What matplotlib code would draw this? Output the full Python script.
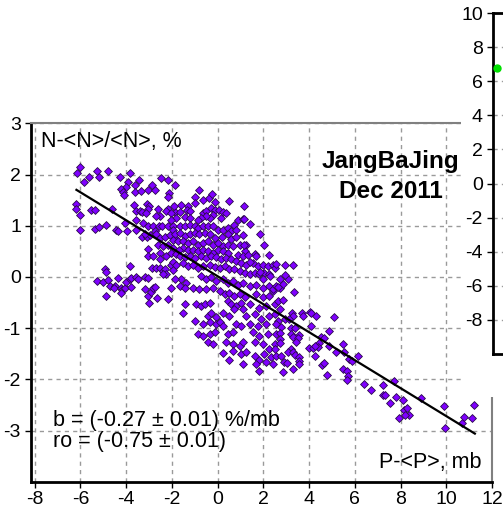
import numpy as np
import matplotlib
matplotlib.use("Agg")
import matplotlib.pyplot as plt
from matplotlib.patches import Rectangle

plt.rcParams["font.family"] = ["Liberation Sans", "DejaVu Sans"]
plt.rcParams["axes.unicode_minus"] = False

# P-<P> (mb), N-<N>/<N> (%)
dp = [
    -6.00, -6.14, -5.85, -5.62, -5.25, -5.18, -4.79, -4.28, -3.84, -3.44, -3.92, -3.62, -3.99, -4.21, -4.13,
    -4.09, -3.62, -3.36, -3.04, -2.75, -2.87, -2.49, -1.88, -6.21, -6.21, -6.03, -6.03, -5.52, -5.34, -4.60,
    -5.37, -5.20, -4.89, -4.42, -4.35, -3.96, -4.06, -3.55, -3.67, -3.58, -3.41, -3.29, -3.09, -3.00, -3.04,
    -3.14, -2.61, -2.17, -2.27, -2.53, -2.71, -1.88, -2.13, -3.55, -3.26, -3.04, -2.82, -2.75, -2.56, -2.41,
    -2.17, -1.95, -3.29, -3.09, -2.94, -2.68, -2.53, -2.31, -2.10, -1.88, -2.61, -2.39, -2.17, -1.95, -3.04,
    -3.04, -2.82, -2.53, -2.53, -2.24, -2.02, -3.81, -3.19, -2.17, -2.18, -0.79,
    -4.93, -4.89, -5.25, -5.01, -4.79, -4.72, -4.50, -4.54, -4.35, -4.21, -4.16, -4.06, -4.21, -3.99, -3.84,
    -3.80, -3.77, -3.58, -3.48, -3.19, -3.04, -4.86, -3.19, -3.04, -2.90, -2.82, -2.75, -3.00, -2.65, -2.17,
    -2.85, -2.71, -2.53, -2.39, -2.31, -2.24, -2.39, -1.95,
    -0.97, -0.64, -0.39, -0.25, -0.09, 0.48, 1.14, -1.00, -1.92, -1.59, -1.30, -1.34, -1.19, -1.66, -2.02,
    -1.44, -1.80, -2.02, -1.22, -0.64, -0.49, -0.28, -0.13, 0.06, -0.20, 0.16, 0.23, 0.35, -0.35, -0.52,
    -0.71, -0.86, 0.89, 1.10, 1.40, 1.86, 2.02, 0.74, -1.66, -1.44, -1.22, -1.00, -0.86, -0.64, -0.42,
    -0.20, 0.01, 0.23, 0.45, 0.60, 0.79, 0.45, 0.21, 0.60, 0.82, 0.99, 1.25, 1.22, 1.62, 2.27,
    -1.95, -1.88, -1.66, -1.44, -1.22, -1.00, -0.79, -0.57, -0.35, -0.13, -1.95, -1.73, -1.52, -1.30, -1.08,
    -0.86, -0.64, -0.42, -0.20, 0.01, 0.23, 0.45, 0.67, -1.52, -1.30, -1.08, -0.86, -0.64, -0.42, -0.20,
    0.01, 0.23, 0.45, 0.89, 1.10, 1.32, -2.02, -1.80, -1.69,
    -1.66, -1.44, -1.22, -1.00, -0.71, -0.49, -0.28, -0.06, 0.16, 0.38, 0.60, 0.82, 1.04, 1.25, 1.54,
    1.76, 1.98, 2.20, 2.41, -1.95, -1.80, -1.52, -1.30, -1.08, -0.86, -0.64, -0.35, -0.13, 0.09, 0.31,
    0.52, 0.74, 0.96, 1.18, 1.40, 1.62, 1.83, 2.05, 2.27, 2.53, -1.59, -1.88, -1.37, -0.71, -0.49,
    -0.28, -0.06, 0.23, 0.45, 0.67, 0.89, 1.10, 1.40, 1.69, 1.98, 2.27, 2.41, -2.02, -1.66, -1.44,
    -1.08, -0.79, -0.49, -0.20, 0.09, 0.31, 0.52, 0.74, 0.96, 1.18, 1.69, 1.98, 2.27, -1.44, -0.93,
    -0.71, -0.57, -0.35, 0.45, 0.60, 0.82, 1.04, 1.40, 1.83, 2.13, 2.49, -1.52, -0.42, -0.28, -0.06,
    0.23, 0.52, 0.74, 1.25, 1.62, 1.91, 2.27, 2.49, -1.00, -0.64, -0.35, -0.06, 0.09, 0.23, 0.82,
    1.04, 1.40, 1.76, 2.13, -0.86, -0.64, -0.35, -0.13, 0.45, 0.67, 1.54, 1.83, 2.20, -0.42, -0.20,
    0.38, 0.67, 0.96, 1.62, 1.98, 2.27, 0.23, 1.04, 1.25, 1.62, 2.05, 2.34, 0.52, 1.83, 2.13,
    1.14, 1.10, 1.14, 1.69, 1.40, 1.86, 1.98, 2.56, 2.30, 2.41, 2.71, 2.85, 3.07,
    2.96, 3.29, 2.93, 2.71, 2.56,
    2.63, 3.36, 2.66, 2.85, 2.75, 3.24, 3.29, 3.68, 3.72, 4.06, 4.09, 4.31, 5.08, 2.93, 2.63,
    3.14, 2.78, 3.22, 3.39, 4.09, 2.56, 2.75, 3.19, 3.58, 2.75, 3.29, 3.51, 4.53, 4.67, 4.89,
    4.45, 4.38, 4.89, 5.47, 2.49, 2.75, 3.44, 3.22, 3.07, 3.29, 3.39, 3.58, 4.02, 4.16, 4.24,
    5.18, 5.52, 5.76, 5.87, 6.13, 2.56, 2.78, 2.90, 3.04, 3.58, 3.58, 3.29, 2.85, 4.56, 4.67,
    4.79, 5.47, 5.66, 5.69, 5.66, 6.39, 6.71, 7.22, 2.56, 2.52,
    1.10, 1.10, 1.83, 1.69, 2.41, 4.24, 0.66, 1.10,
    7.73, 7.22, 7.34, 7.54, 7.80, 8.09, 8.17, 8.27, 8.38, 8.21, 7.95, 8.89, 9.88, 9.94, 10.68,
    10.79, 11.12, 11.22,
]
dn = [
    2.14, 2.03, 1.86, 1.96, 2.07, 1.96, 2.07, 1.96, 2.02, 1.89, 1.86, 1.80, 1.76, 1.71, 1.65,
    1.60, 1.65, 1.67, 1.69, 1.69, 1.80, 1.94, 1.80, 1.43, 1.32, 1.21, 0.91, 1.30, 1.30, 1.32,
    0.94, 0.97, 1.01, 0.92, 0.89, 0.89, 1.06, 0.92, 1.41, 1.29, 1.29, 1.27, 1.43, 1.39, 1.32,
    1.25, 1.32, 1.32, 1.28, 1.18, 1.18, 1.26, 1.63, 1.12, 1.05, 0.99, 0.99, 0.89, 0.99, 1.00,
    1.00, 0.99, 0.78, 0.78, 0.81, 0.83, 0.76, 0.78, 0.81, 0.76, 0.63, 0.60, 0.63, 0.57, 0.55,
    0.40, 0.40, 0.47, 0.34, 0.40, 0.24, 0.22, 0.84, 1.89, 1.57, 1.70,
    0.15, 0.10, -0.08, -0.09, -0.06, -0.17, -0.17, -0.22, -0.03, -0.21, -0.26, -0.22, -0.31, -0.09, -0.05,
    -0.02, -0.20, 0.00, -0.05, 0.00, -0.03, -0.37, -0.24, -0.37, -0.29, -0.22, -0.20, -0.51, -0.42, -0.44,
    0.17, 0.18, 0.17, 0.11, 0.15, 0.06, 0.06, 0.13,
    1.57, 1.50, 1.54, 1.62, 1.47, 1.49, 1.39, 1.45, 1.39, 1.41, 1.39, 1.31, 1.28, 1.26, 1.25,
    1.17, 1.15, 1.12, 1.15, 1.25, 1.28, 1.34, 1.31, 1.31, 1.21, 1.15, 1.26, 1.25, 1.15, 1.18,
    1.15, 1.12, 1.12, 1.14, 1.04, 0.84, 0.63, 1.02, 0.99, 0.99, 1.02, 1.00, 0.96, 0.99, 1.00,
    0.99, 0.92, 0.92, 0.96, 0.89, 0.92, 0.83, 0.78, 0.74, 0.78, 0.63, 0.63, 0.50, 0.44, 0.42,
    0.92, 0.83, 0.86, 0.79, 0.83, 0.86, 0.83, 0.86, 0.83, 0.76, 0.73, 0.70, 0.71, 0.66, 0.70,
    0.63, 0.66, 0.70, 0.63, 0.66, 0.60, 0.63, 0.60, 0.57, 0.53, 0.53, 0.50, 0.53, 0.50, 0.47,
    0.53, 0.50, 0.47, 0.42, 0.40, 0.42, 0.47, 0.44, 0.53,
    0.40, 0.39, 0.40, 0.37, 0.40, 0.37, 0.40, 0.39, 0.34, 0.37, 0.34, 0.31, 0.28, 0.24, 0.28,
    0.21, 0.24, 0.21, 0.24, 0.30, 0.24, 0.28, 0.21, 0.24, 0.18, 0.21, 0.24, 0.19, 0.18, 0.21,
    0.15, 0.15, 0.11, 0.08, 0.05, 0.08, 0.05, 0.08, 0.05, 0.18, -0.05, -0.05, -0.11, 0.02, -0.05,
    0.00, -0.08, -0.05, -0.11, -0.08, -0.15, -0.11, -0.18, -0.15, -0.21, -0.18, -0.28, -0.21, -0.18, -0.21,
    -0.21, -0.24, -0.24, -0.21, -0.28, -0.34, -0.31, -0.37, -0.34, -0.40, -0.34, -0.40, -0.37, -0.52, -0.53,
    -0.57, -0.53, -0.50, -0.47, -0.53, -0.57, -0.50, -0.53, -0.60, -0.57, -0.53, -0.71, -0.76, -0.71, -0.79,
    -0.70, -0.76, -0.63, -0.76, -0.73, -0.83, -0.76, -0.73, -0.86, -0.92, -0.89, -0.92, -0.89, -0.96, -0.92,
    -0.96, -0.92, -0.96, -0.92, -1.12, -1.15, -1.12, -1.08, -1.12, -1.08, -1.08, -1.15, -1.12, -1.28, -1.31,
    -1.28, -1.31, -1.34, -1.28, -1.31, -1.41, -1.49, -1.50, -1.47, -1.54, -1.50, -1.57, -1.63, -1.63, -1.67,
    1.13, 0.81, 0.63, 0.40, 0.29, 0.09, -0.04, 0.26, 0.02, -0.24, -0.21, -0.13, -0.05,
    0.24, 0.24, 0.03, -0.04, -0.18,
    -0.20, -0.29, -0.47, -0.46, -0.63, -0.71, -0.76, -0.71, -0.77, -0.68, -0.71, -0.76, -0.78, -0.83, -0.86,
    -0.83, -0.97, -0.99, -0.99, -0.96, -1.12, -1.10, -1.12, -1.13, -1.21, -1.18, -1.19, -1.17, -1.19, -1.06,
    -1.30, -1.36, -1.34, -1.32, -1.31, -1.30, -1.28, -1.41, -1.47, -1.47, -1.52, -1.56, -1.38, -1.39, -1.54,
    -1.47, -1.47, -1.60, -1.65, -1.54, -1.54, -1.54, -1.67, -1.69, -1.65, -1.71, -1.80, -1.86, -1.73, -1.69,
    -1.91, -1.80, -1.84, -1.93, -2.02, -2.09, -2.20, -2.12, -0.92, -1.41,
    -0.63, -1.28, -1.83, -1.70, -1.70, -1.34, -1.44, -1.70,
    -2.04, -2.31, -2.31, -2.46, -2.35, -2.41, -2.59, -2.57, -2.69, -2.70, -2.75, -2.37, -2.53, -2.95, -2.86,
    -2.74, -2.75, -2.50,
]

# regression line N = a + b*P, drawn between these P values
fit_a = 0.014
fit_b = -0.2733
fit_x = [-6.17, 11.25]

x_ticks = [-8, -6, -4, -2, 0, 2, 4, 6, 8, 10, 12]
y_ticks = [-3, -2, -1, 0, 1, 2, 3]

# neighbouring panel (only its left edge shows)
side_ticks = [10, 8, 6, 4, 2, 0, -2, -4, -6, -8]
side_x = [0.3]
side_y = [6.8]

W, H = 503, 512


def fx(px):
    return px / W


def fy(py):
    return 1 - py / H


def dibujar():
    fig = plt.figure(figsize=(W / 100, H / 100), dpi=100)
    ax = fig.add_axes([fx(30.7), fy(481.7), fx(492) - fx(30.7), fy(123.3) - fy(481.7)])
    ax.set_xlim(-8.17, 12)
    ax.set_ylim(-4, 3)
    ax.set_xticks(x_ticks)
    ax.set_yticks(y_ticks)
    ax.tick_params(labelsize=14, length=4, width=1, direction="out", pad=3)
    ax.grid(True, color="#9a9a9a", linestyle=(0, (3, 3)), linewidth=1)
    for s in ["left", "bottom"]:
        ax.spines[s].set_linewidth(2)
        ax.spines[s].set_color("black")
    for s in ["top", "right"]:
        ax.spines[s].set_linewidth(1.5)
        ax.spines[s].set_color("#808080")

    ax.scatter(dp, dn, marker="D", s=16, c="#7f00ff", edgecolors="#2a0a4a",
               linewidths=0.6, zorder=3)
    xl = np.array(fit_x)
    ax.plot(xl, fit_a + fit_b * xl, color="black", lw=1.6, zorder=4)

    ax.text(-7.73, 2.53, "N-<N>/<N>, %", fontsize=15.5, va="baseline")
    ax.text(7.56, 2.13, "JangBaJing", fontsize=17.5, fontweight="bold", ha="center", va="baseline")
    ax.text(7.56, 1.54, "Dec 2011", fontsize=17.5, fontweight="bold", ha="center", va="baseline")
    ax.text(-7.19, -2.92, "b = (-0.27 \u00b1 0.01) %/mb", fontsize=15.5, va="baseline")
    ax.text(-7.19, -3.33, "ro = (-0.75 \u00b1 0.01)", fontsize=15.5, va="baseline")
    ax.text(11.55, -3.74, "P-<P>, mb", fontsize=15.5, ha="right", va="baseline")

    # white background of the neighbouring picture covering the corner
    fig.patches.append(Rectangle((fx(461), fy(397)), 1 - fx(461), fy(0) - fy(397),
                                 transform=fig.transFigure, facecolor="white",
                                 edgecolor="none", zorder=1))
    ax2 = fig.add_axes([fx(492.7), fy(354), 0.3, fy(13) - fy(354)], zorder=2)
    ax2.set_ylim(-10, 10)
    ax2.set_xlim(0, 10)
    ax2.set_yticks(side_ticks)
    ax2.set_xticks([])
    ax2.tick_params(labelsize=14, length=4, width=1, direction="out", pad=3)
    ax2.grid(True, axis="y", color="#9a9a9a", linestyle=(0, (3, 3)), linewidth=1)
    for s in ax2.spines.values():
        s.set_linewidth(2)
        s.set_color("black")
    ax2.scatter(side_x, side_y, marker="o", s=25, c="#00e000", zorder=3)

    fig.savefig("out.png", dpi=100)


if __name__ == "__main__":
    dibujar()
